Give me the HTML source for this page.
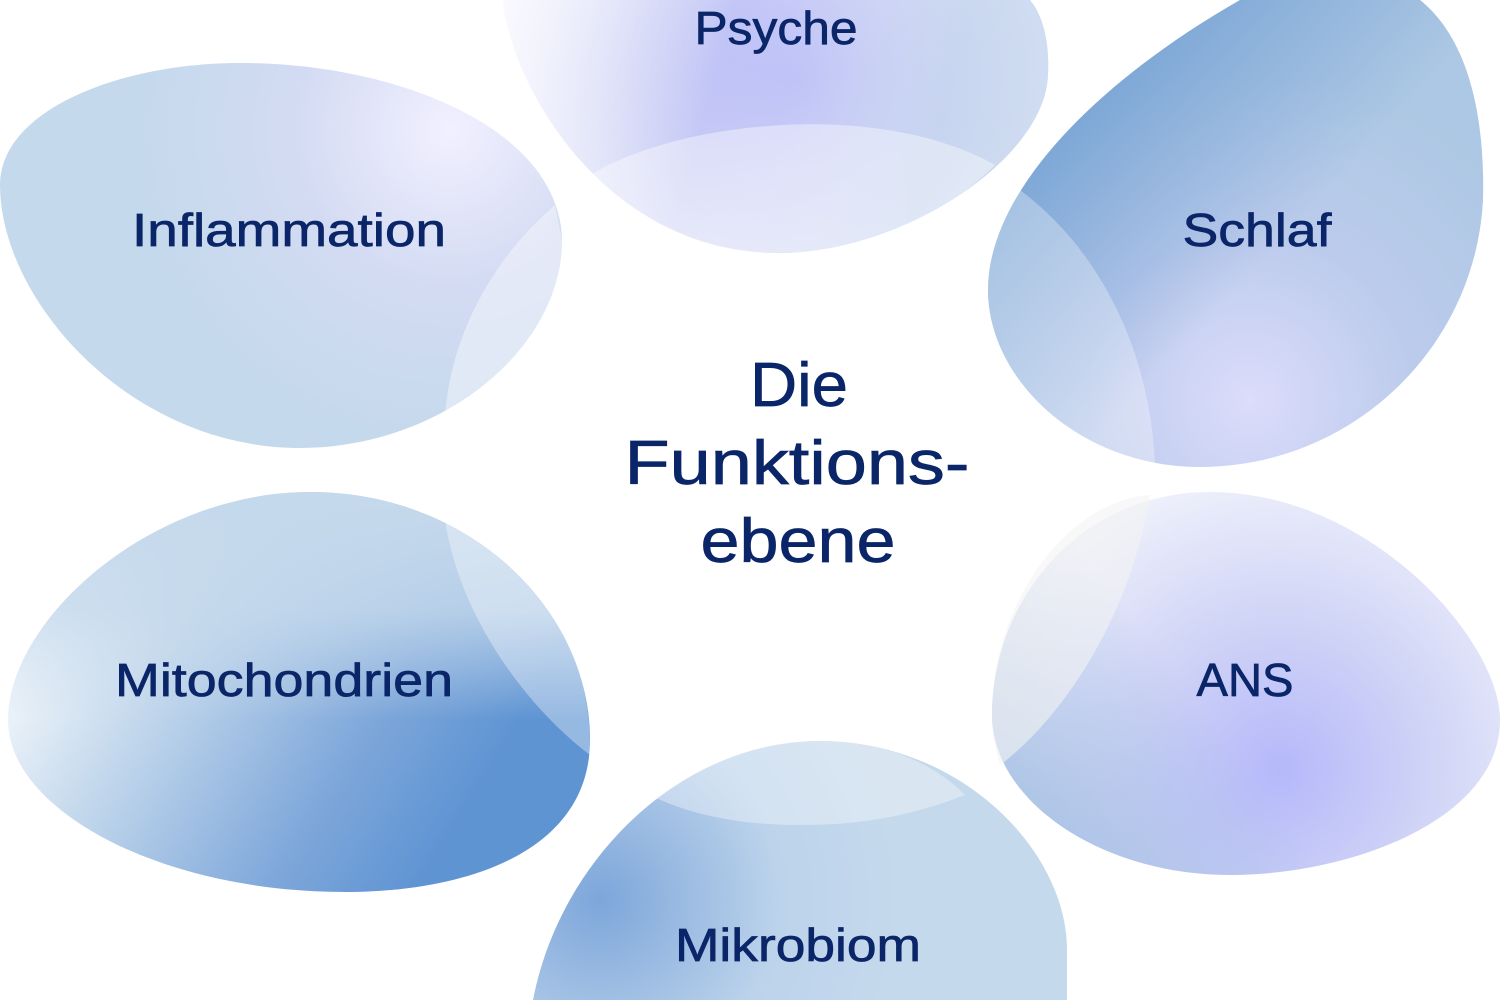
<!DOCTYPE html>
<html><head><meta charset="utf-8"><style>
html,body{margin:0;padding:0;background:#fff;}
svg{display:block}
text{font-family:"Liberation Sans",sans-serif;fill:#0b2668;stroke:#0b2668;stroke-width:0.7;text-anchor:middle}
</style></head><body>
<svg width="1500" height="1000" viewBox="0 0 1500 1000">
<defs>
<radialGradient id="gPs" cx="800" cy="80" r="330" gradientUnits="userSpaceOnUse">
<stop offset="0" stop-color="#b3b6f7"/><stop offset="0.5" stop-color="#cdd1f5"/><stop offset="1" stop-color="#f2f2fd"/></radialGradient>
<linearGradient id="gPs2" x1="500" y1="0" x2="1050" y2="150" gradientUnits="userSpaceOnUse">
<stop offset="0" stop-color="#fff" stop-opacity="0.7"/><stop offset="0.4" stop-color="#fff" stop-opacity="0"/><stop offset="0.8" stop-color="#c5d9ec" stop-opacity="0.6"/></linearGradient>
<radialGradient id="gIn" cx="450" cy="130" r="520" gradientUnits="userSpaceOnUse">
<stop offset="0" stop-color="#f2f0ff"/><stop offset="0.3" stop-color="#d3dbf3"/><stop offset="0.6" stop-color="#c5d9ec"/><stop offset="1" stop-color="#c5d9ec"/></radialGradient>
<radialGradient id="gSc" cx="1250" cy="400" r="330" gradientUnits="userSpaceOnUse">
<stop offset="0" stop-color="#dcdcfb"/><stop offset="0.5" stop-color="#bccbec"/><stop offset="1" stop-color="#adc8e4"/></radialGradient>
<linearGradient id="gSc2" x1="1030" y1="170" x2="1200" y2="330" gradientUnits="userSpaceOnUse">
<stop offset="0" stop-color="#6f9dd2" stop-opacity="0.75"/><stop offset="1" stop-color="#6f9dd2" stop-opacity="0"/></linearGradient>
<linearGradient id="gMi" x1="0" y1="620" x2="420" y2="880" gradientUnits="userSpaceOnUse">
<stop offset="0" stop-color="#ffffff"/><stop offset="0.35" stop-color="#c2d7ec"/><stop offset="0.75" stop-color="#7ea7da"/><stop offset="1" stop-color="#5f94d3"/></linearGradient>
<linearGradient id="gMi2" x1="300" y1="500" x2="300" y2="720" gradientUnits="userSpaceOnUse">
<stop offset="0" stop-color="#c5d9ec"/><stop offset="0.5" stop-color="#c5d9ec" stop-opacity="0.8"/><stop offset="1" stop-color="#c5d9ec" stop-opacity="0"/></linearGradient>
<radialGradient id="gAn" cx="1280" cy="770" r="300" gradientUnits="userSpaceOnUse">
<stop offset="0" stop-color="#b5b8fa"/><stop offset="0.5" stop-color="#d0d4f6"/><stop offset="1" stop-color="#eef0fb"/></radialGradient>
<linearGradient id="gAn2" x1="1000" y1="850" x2="1200" y2="700" gradientUnits="userSpaceOnUse">
<stop offset="0" stop-color="#8fb2dc" stop-opacity="0.8"/><stop offset="1" stop-color="#8fb2dc" stop-opacity="0"/></linearGradient>
<radialGradient id="gMk" cx="600" cy="900" r="300" gradientUnits="userSpaceOnUse">
<stop offset="0" stop-color="#7da6da"/><stop offset="0.6" stop-color="#bcd3eb"/><stop offset="1" stop-color="#c5d9ec"/></radialGradient>
</defs>

<path d="M503,0 C 510,80 600,250 775,253 C 900,255 1045,160 1048,75 C 1050,35 1040,12 1030,0 Z" fill="url(#gPs)"/>
<path d="M503,0 C 510,80 600,250 775,253 C 900,255 1045,160 1048,75 C 1050,35 1040,12 1030,0 Z" fill="url(#gPs2)"/>
<path d="M590,175 C 680,120 880,100 995,165 C 930,230 850,253 775,253 C 700,253 640,220 590,175 Z" fill="#fff" opacity="0.4"/>

<path d="M0,185 C 0,110 120,63 240,63 C 400,63 560,130 562,240 C 562,350 440,448 300,448 C 130,448 0,300 0,185 Z" fill="url(#gIn)"/>
<path d="M555,205 C 480,270 450,350 445,415 C 510,390 560,320 562,240 Z" fill="#fff" opacity="0.4"/>

<path d="M1420,0 C 1470,40 1485,120 1483,200 C 1475,350 1350,467 1200,467 C 1080,467 988,380 988,290 C 988,190 1100,80 1240,0 Z" fill="url(#gSc)"/>
<path d="M1420,0 C 1470,40 1485,120 1483,200 C 1475,350 1350,467 1200,467 C 1080,467 988,380 988,290 C 988,190 1100,80 1240,0 Z" fill="url(#gSc2)"/>
<path d="M1020,190 C 1100,250 1150,350 1155,465 C 1050,450 988,380 988,290 C 988,250 1000,220 1020,190 Z" fill="#fff" opacity="0.3"/>

<path d="M8,720 C 8,620 150,492 310,492 C 470,492 590,610 590,740 C 590,850 470,892 345,892 C 160,892 8,810 8,720 Z" fill="url(#gMi)"/>
<path d="M8,720 C 8,620 150,492 310,492 C 470,492 590,610 590,740 C 590,850 470,892 345,892 C 160,892 8,810 8,720 Z" fill="url(#gMi2)"/>
<path d="M445,520 C 460,620 530,710 590,755 C 592,650 540,560 445,520 Z" fill="#fff" opacity="0.35"/>

<path d="M992,715 C 992,600 1080,492 1210,492 C 1370,492 1500,640 1500,720 C 1500,820 1350,875 1230,875 C 1100,875 992,800 992,715 Z" fill="url(#gAn)"/>
<path d="M992,715 C 992,600 1080,492 1210,492 C 1370,492 1500,640 1500,720 C 1500,820 1350,875 1230,875 C 1100,875 992,800 992,715 Z" fill="url(#gAn2)"/>
<path d="M1150,495 C 1130,620 1060,720 1000,765 C 992,740 992,720 992,715 C 992,600 1070,500 1150,495 Z" fill="#f3f3f3" opacity="0.6"/>

<path d="M533,1000 C 560,860 680,741 820,741 C 960,741 1067,850 1067,950 L1067,1000 Z" fill="url(#gMk)"/>
<path d="M650,795 C 700,760 760,741 820,741 C 880,741 930,760 965,795 C 900,820 850,825 800,825 C 740,825 690,815 650,795 Z" fill="#fff" opacity="0.35"/>

<text x="776" y="44" font-size="46" textLength="163" lengthAdjust="spacingAndGlyphs">Psyche</text>
<text x="289" y="246" font-size="46" textLength="314" lengthAdjust="spacingAndGlyphs">Inflammation</text>
<text x="1257" y="246" font-size="46" textLength="149" lengthAdjust="spacingAndGlyphs">Schlaf</text>
<text x="284" y="696" font-size="46" textLength="338" lengthAdjust="spacingAndGlyphs">Mitochondrien</text>
<text x="1245" y="696" font-size="46" textLength="97" lengthAdjust="spacingAndGlyphs">ANS</text>
<text x="798" y="961" font-size="46" textLength="246" lengthAdjust="spacingAndGlyphs">Mikrobiom</text>
<text x="799" y="406" font-size="62" textLength="98" lengthAdjust="spacingAndGlyphs">Die</text>
<text x="797" y="484" font-size="62" textLength="345" lengthAdjust="spacingAndGlyphs">Funktions-</text>
<text x="798" y="562" font-size="62" textLength="195" lengthAdjust="spacingAndGlyphs">ebene</text>
</svg>
</body></html>
